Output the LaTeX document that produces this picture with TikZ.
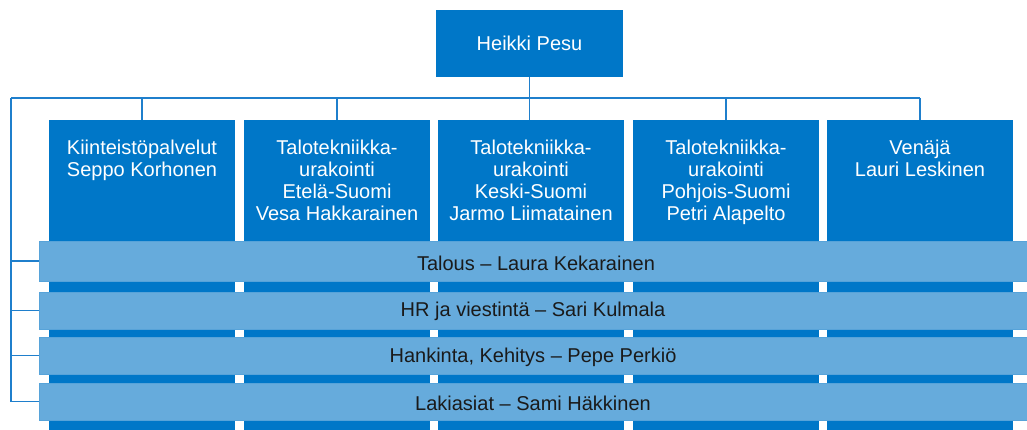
\documentclass[tikz,border=0pt]{standalone}
\usepackage{fontspec}
\setmainfont{Liberation Sans}
\definecolor{dblue}{HTML}{0077C8}
\definecolor{lblue}{HTML}{66ABDC}
\definecolor{lineblue}{HTML}{1F7FCC}
\definecolor{txt}{HTML}{1A1A1A}
\begin{document}
\begin{tikzpicture}[x=1pt,y=-1pt,
  topbox/.style={fill=dblue, draw=none, minimum width=187pt, minimum height=67pt, inner sep=0pt,
    text=white, font=\fontsize{20}{22}\selectfont},
  colbox/.style={fill=dblue, draw=none, minimum width=186pt, minimum height=310pt, inner sep=0pt, anchor=north},
  coltext/.style={anchor=north, align=center, text=white, inner sep=0pt, font=\fontsize{20}{22}\selectfont},
  barbox/.style={fill=lblue, draw=lblue!85!dblue, line width=0.6pt, minimum width=988pt, inner sep=0pt,
    text=txt, font=\fontsize{20}{22}\selectfont},
  bartext/.style={text=txt, inner sep=0pt, font=\fontsize{20}{22}\selectfont},
  conn/.style={draw=lineblue, line width=1.6pt}
]
\useasboundingbox (0,0) rectangle (1027,430);
\fill[white] (0,0) rectangle (1027,430);

\node[topbox] (top) at (529.5,43.5) {Heikki Pesu};

\node[colbox] (c1) at (142,120) {};
\node[colbox] (c2) at (337,120) {};
\node[colbox] (c3) at (531,120) {};
\node[colbox] (c4) at (726,120) {};
\node[colbox] (c5) at (920,120) {};

\node[coltext] (t1) at (142,140) {Kiinteistöpalvelut\\Seppo Korhonen};
\node[coltext] (t2) at (337,140) {Talotekniikka-\\urakointi\\Etelä-Suomi\\Vesa Hakkarainen};
\node[coltext] (t3) at (531,140) {Talotekniikka-\\urakointi\\Keski-Suomi\\Jarmo Liimatainen};
\node[coltext] (t4) at (726,140) {Talotekniikka-\\urakointi\\Pohjois-Suomi\\Petri Alapelto};
\node[coltext] (t5) at (920,140) {Venäjä\\Lauri Leskinen};

% connectors
\coordinate (L) at (11,98);
\coordinate (R) at (920,98);
\draw[conn] (top.south) -- (top.south |- c3.north);
\draw[conn] (L) -- (R);
\draw[conn] (c1.north |- L) -- (c1.north);
\draw[conn] (c2.north |- L) -- (c2.north);
\draw[conn] (c4.north |- L) -- (c4.north);
\draw[conn] (R) -- (c5.north);

\node[barbox, minimum height=40pt] (b1) at (533,261) {};
\node[barbox, minimum height=37pt] (b2) at (533,310.5) {};
\node[barbox, minimum height=37pt] (b3) at (533,355.5) {};
\node[barbox, minimum height=37pt] (b4) at (533,401.5) {};
\node[bartext] (l1) at (536,263) {Talous – Laura Kekarainen};
\node[bartext] (l2) at (533,311.5) {HR ja viestintä – Sari Kulmala};
\node[bartext] (l3) at (533,357) {Hankinta, Kehitys – Pepe Perkiö};
\node[bartext] (l4) at (533,403) {Lakiasiat – Sami Häkkinen};

\draw[conn] (L) -- (L |- b4.west);
\draw[conn] (L |- b1.west) -- (b1.west);
\draw[conn] (L |- b2.west) -- (b2.west);
\draw[conn] (L |- b3.west) -- (b3.west);
\draw[conn] (L |- b4.west) -- (b4.west);
\end{tikzpicture}
\end{document}
